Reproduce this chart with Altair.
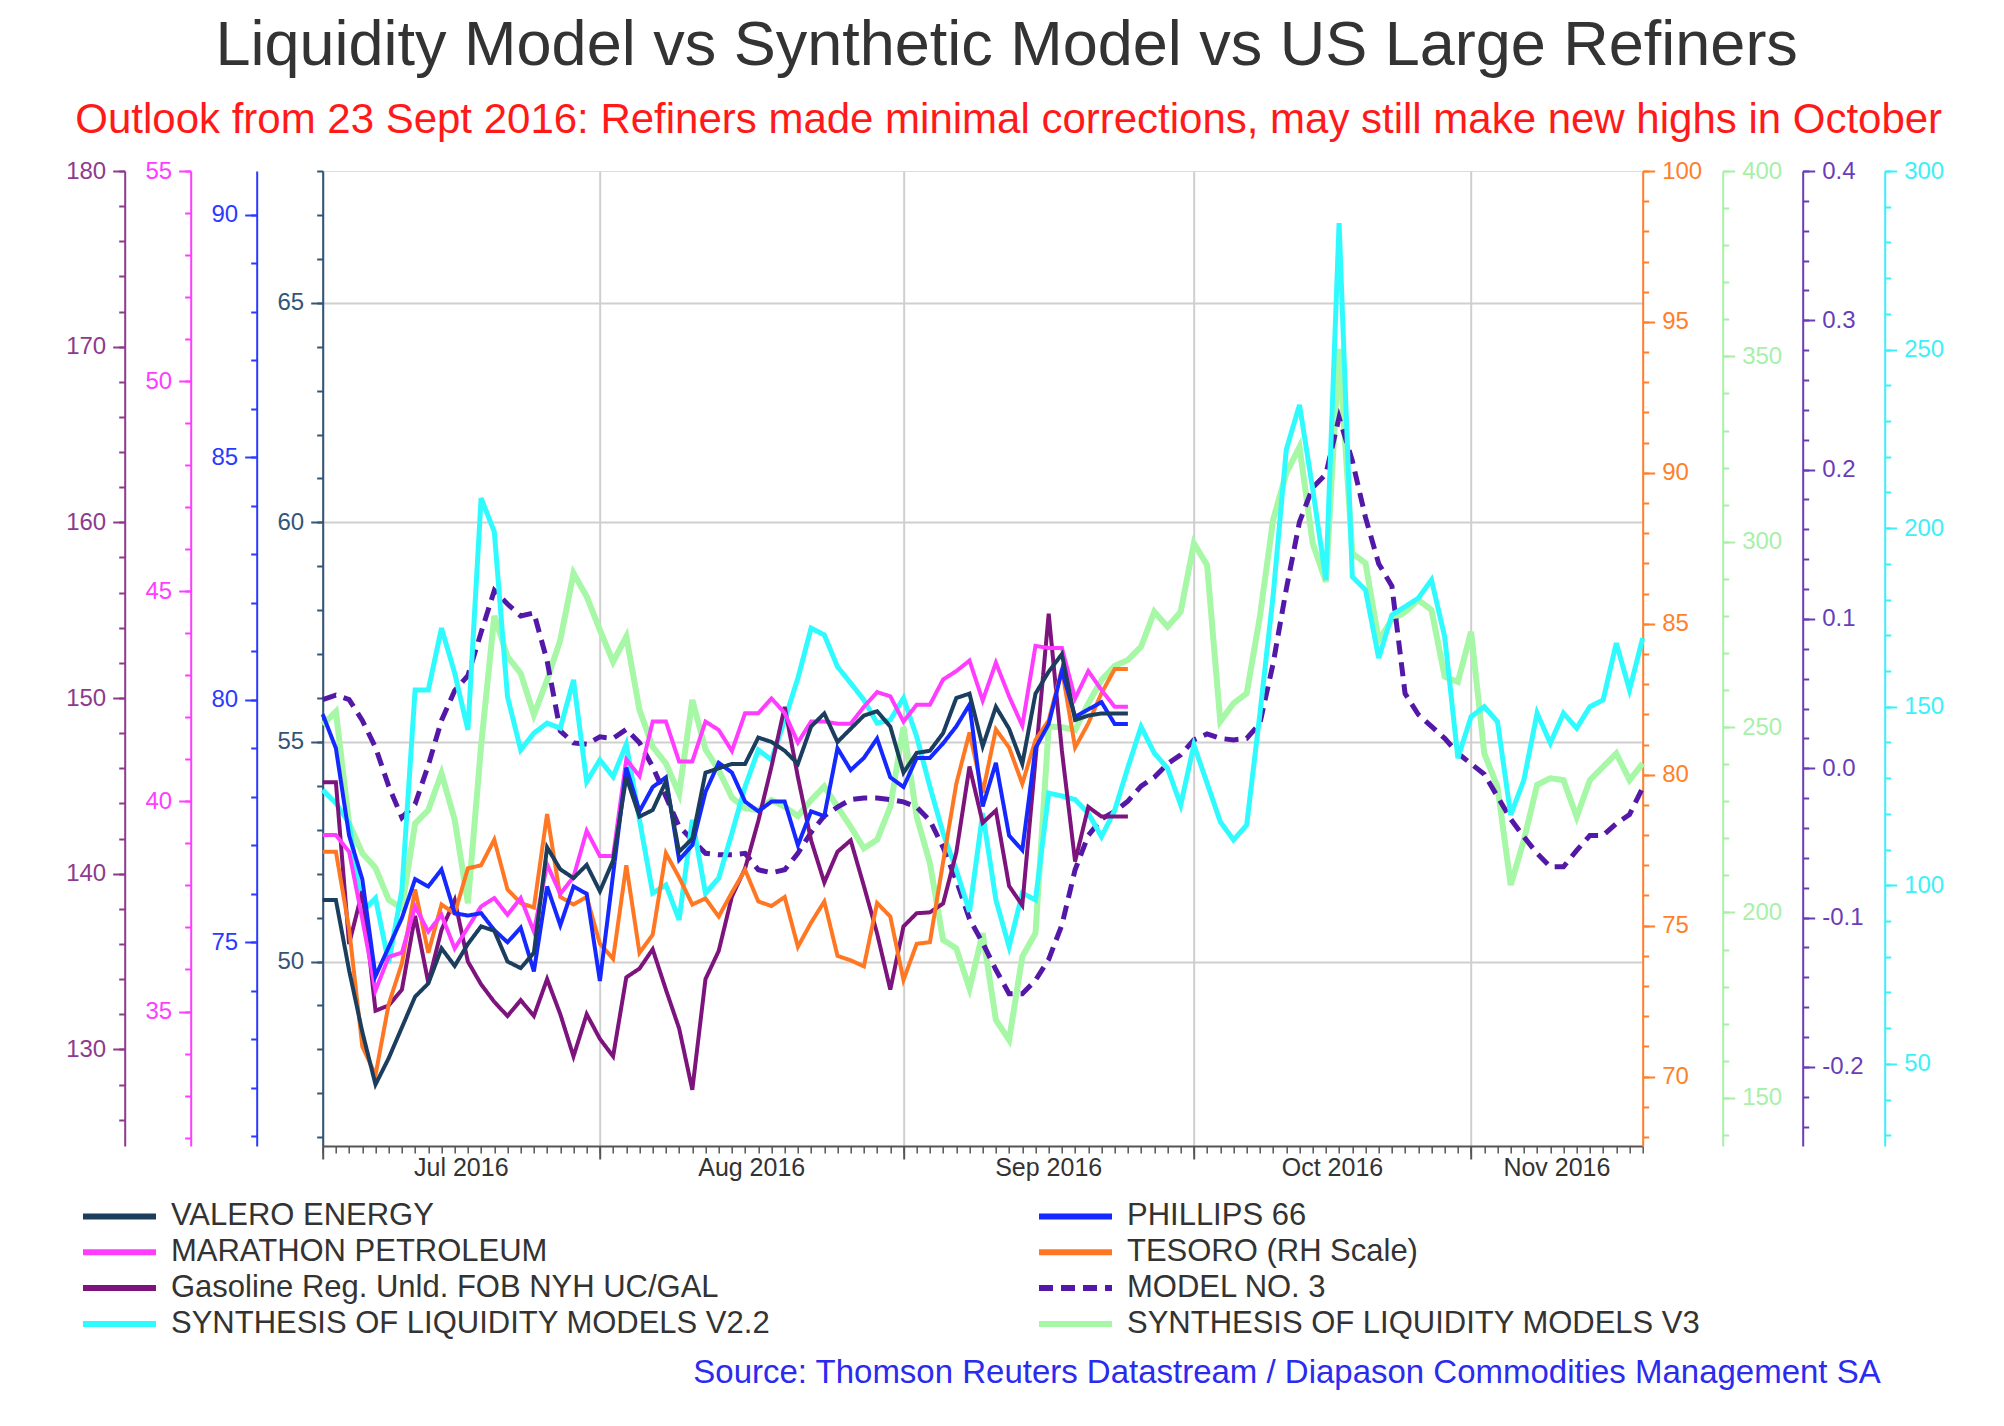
import altair as alt
import numpy as np
import pandas as pd

# ---------------- data ----------------
START, END = "2016-07-01", "2016-11-18"
days = pd.bdate_range(START, END)  # weekday calendar used by the chart's time axis

# refiners, daily (weekdays) from 1 Jul to 26 Sep 2016
valero = [51.4, 51.4, 49.8, 48.4, 47.2, 47.8, 48.5, 49.2, 49.5, 50.3,
          49.9, 50.4, 50.8, 50.7, 50.0, 49.85, 50.2, 52.6, 52.1, 51.9,
          52.2, 51.6, 52.3, 54.2, 53.3, 53.45, 54.1, 52.5, 52.8, 54.3,
          54.4, 54.5, 54.5, 55.1, 55.0, 54.8, 54.5, 55.35, 55.65, 55.0,
          55.3, 55.6, 55.7, 55.35, 54.3, 54.75, 54.8, 55.2, 56.0, 56.1,
          54.9, 55.8, 55.3, 54.5, 56.1, 56.6, 57.0, 55.5, 55.6, 55.65,
          55.65, 55.65]
phillips = [79.7, 79.0, 77.2, 76.3, 74.3, 74.9, 75.5, 76.3, 76.15, 76.5,
            75.6, 75.55, 75.6, 75.25, 75.0, 75.3, 74.4, 76.15, 75.35, 76.15,
            76.0, 74.2, 76.4, 78.6, 77.7, 78.2, 78.4, 76.7, 77.0, 78.1,
            78.7, 78.5, 77.9, 77.7, 77.9, 77.9, 77.0, 77.7, 77.6, 79.0,
            78.55, 78.8, 79.2, 78.4, 78.2, 78.8, 78.8, 79.1, 79.45, 79.9,
            77.8, 78.7, 77.2, 76.9, 79.0, 79.5, 80.6, 79.65, 79.8, 79.95,
            79.5, 79.5]
marathon = [39.2, 39.2, 38.8, 37.2, 35.5, 36.3, 36.4, 37.5, 36.9, 37.3,
            36.5, 37.0, 37.5, 37.7, 37.3, 37.7, 36.9, 38.5, 37.8, 38.2,
            39.3, 38.7, 38.7, 41.0, 40.6, 41.9, 41.9, 40.95, 40.95, 41.9,
            41.7, 41.2, 42.1, 42.1, 42.45, 42.1, 41.4, 41.9, 41.9, 41.85,
            41.85, 42.25, 42.6, 42.5, 41.9, 42.3, 42.3, 42.9, 43.1, 43.35,
            42.4, 43.3, 42.5, 41.8, 43.7, 43.65, 43.65, 42.45, 43.1, 42.65,
            42.25, 42.25]
tesoro = [77.45, 77.45, 74.9, 71.0, 70.05, 72.4, 73.75, 76.2, 74.1, 75.7,
          75.4, 76.9, 77.0, 77.85, 76.2, 75.75, 75.6, 78.7, 75.95, 75.7,
          75.95, 74.4, 73.9, 77.0, 74.1, 74.7, 77.4, 76.6, 75.7, 75.9,
          75.3, 76.1, 76.85, 75.8, 75.65, 75.95, 74.3, 75.1, 75.8, 74.0,
          73.85, 73.65, 75.75, 75.3, 73.2, 74.4, 74.45, 77.1, 79.7, 81.4,
          79.4, 81.5, 80.9, 79.7, 81.15, 81.8, 83.5, 80.9, 81.7, 82.7,
          83.5, 83.5]
gasoline = [145.2, 145.2, 136.0, 139.0, 132.2, 132.5, 133.4, 137.6, 133.8, 136.8,
            138.5, 135.0, 133.7, 132.7, 131.9, 132.8, 131.9, 134.0, 132.0, 129.6,
            132.0, 130.6, 129.6, 134.1, 134.6, 135.7, 133.4, 131.2, 127.7, 134.0,
            135.6, 138.7, 140.3, 143.0, 146.1, 149.5, 145.5, 141.9, 139.5, 141.25,
            141.9, 139.3, 136.6, 133.4, 137.0, 137.75, 137.8, 138.3, 141.2, 146.1,
            142.9, 143.6, 139.3, 138.2, 146.5, 154.8, 147.0, 140.7, 143.8, 143.25,
            143.25, 143.25]
# models, daily (weekdays) from 1 Jul to 18 Nov 2016
model3 = [0.046, 0.049, 0.046, 0.032, 0.014, -0.012, -0.033, -0.024, 0.002, 0.032,
          0.052, 0.062, 0.091, 0.119, 0.110, 0.102, 0.104, 0.072, 0.025, 0.017,
          0.016, 0.021, 0.020, 0.026, 0.017, 0.001, -0.019, -0.039, -0.048, -0.057,
          -0.058, -0.058, -0.057, -0.068, -0.070, -0.068, -0.057, -0.043, -0.032, -0.026,
          -0.021, -0.020, -0.020, -0.021, -0.0225, -0.026, -0.035, -0.053, -0.075, -0.101,
          -0.117, -0.135, -0.151, -0.151, -0.142, -0.128, -0.105, -0.068, -0.045, -0.034,
          -0.029, -0.022, -0.012, -0.006, 0.003, 0.009, 0.019, 0.023, 0.020, 0.019,
          0.020, 0.030, 0.070, 0.120, 0.165, 0.188, 0.197, 0.235, 0.206, 0.168,
          0.137, 0.122, 0.050, 0.036, 0.028, 0.020, 0.010, 0.003, -0.004, -0.019,
          -0.034, -0.046, -0.057, -0.066, -0.066, -0.055, -0.045, -0.045, -0.037, -0.031,
          -0.013]
synth_v22 = [126.7, 123.0, 117.4, 92.6, 96.4, 78.2, 98.7, 154.7, 154.7, 172.0,
             159.4, 143.5, 208.4, 199.0, 152.8, 137.9, 142.6, 145.4, 144.0, 157.5,
             129.0, 135.1, 130.4, 139.5, 118.3, 97.8, 100.1, 90.3, 118.3, 97.8,
             102.0, 114.6, 127.6, 137.9, 135.1, 146.3, 158.0, 172.0, 170.1, 161.2,
             156.6, 151.9, 145.4, 146.3, 152.4, 141.6, 127.6, 114.6, 104.3, 92.6,
             120.2, 95.9, 82.8, 97.8, 95.9, 125.8, 125.0, 124.0, 120.2, 113.6,
             121.0, 133.0, 144.4, 137.0, 132.8, 122.5, 139.3, 128.6, 117.8, 112.7,
             116.9, 148.0, 181.0, 222.0, 234.5, 211.0, 185.5, 285.4, 186.4, 182.7,
             163.6, 175.7, 178.0, 180.4, 185.5, 169.6, 135.6, 147.2, 150.0, 145.8,
             119.7, 129.5, 148.2, 139.8, 148.2, 144.0, 150.0, 151.9, 167.8, 154.7,
             169.2]
synth_v3 = [250.6, 254.2, 224.0, 216.0, 212.0, 203.4, 201.1, 224.0, 227.6, 237.5,
            225.0, 202.5, 245.0, 280.0, 269.0, 264.5, 253.3, 262.7, 273.5, 291.5,
            285.2, 276.2, 267.6, 274.4, 254.6, 244.7, 240.2, 232.0, 257.3, 244.0,
            238.4, 231.0, 228.1, 227.6, 230.3, 228.5, 226.0, 230.3, 234.0, 228.5,
            223.1, 217.3, 219.6, 228.5, 250.1, 225.8, 213.3, 192.6, 190.3, 179.5,
            194.4, 171.0, 165.6, 188.1, 194.4, 250.1, 250.0, 249.2, 256.4, 262.7,
            266.5, 268.1, 271.7, 281.1, 277.1, 281.1, 299.6, 293.7, 251.5, 256.4,
            259.1, 279.8, 305.9, 318.5, 325.6, 299.6, 289.2, 352.0, 296.9, 294.2,
            273.5, 278.9, 281.0, 284.3, 281.6, 263.6, 262.2, 275.7, 242.9, 233.9,
            207.4, 219.5, 234.4, 236.2, 235.7, 225.8, 235.7, 239.3, 242.9, 235.7,
            240.2]

# legend order (filled column by column: left column first, then right column)
names = ["VALERO ENERGY", "MARATHON PETROLEUM", "Gasoline Reg. Unld. FOB NYH UC/GAL",
         "SYNTHESIS OF LIQUIDITY MODELS V2.2",
         "PHILLIPS 66", "TESORO (RH Scale)", "MODEL NO. 3", "SYNTHESIS OF LIQUIDITY MODELS V3"]
line_colors = ["#1B3D5E", "#FF3CFF", "#7D137D", "#2FFBFF",
               "#1428FF", "#FF7722", "#5418A8", "#A6F7A6"]
dashes = [[1, 0], [1, 0], [1, 0], [1, 0], [1, 0], [1, 0], [14, 8], [1, 0]]
N_VALERO, N_MARATHON, N_GASOLINE, N_V22, N_PHILLIPS, N_TESORO, N_MODEL, N_V3 = names

month_names = ["Jul 2016", "Aug 2016", "Sep 2016", "Oct 2016", "Nov 2016"]
month_first_days = ["2016-07-01", "2016-08-01", "2016-09-01", "2016-10-03", "2016-11-01"]

title_text = "Liquidity Model vs Synthetic Model vs US Large Refiners"
subtitle_text = "Outlook from 23 Sept 2016: Refiners made minimal corrections,  may still make new highs in October"
source_text = "Source: Thomson Reuters Datastream / Diapason Commodities Management SA"

FONT = "Liberation Sans"
W, H = 1320, 975


def wd(dates):
    """weekday index counted from the first day of the axis"""
    return np.busday_count(np.datetime64(START, "D"),
                           np.asarray(pd.to_datetime(dates).values, dtype="datetime64[D]"))


def frame(name, vals):
    d = days[:len(vals)]
    return pd.DataFrame({"date": d.strftime("%Y-%m-%d"), "t": wd(d), "v": vals, "series": name})


month_start_idx = [int(i) for i in wd(month_first_days)]
end_idx = int(wd([END])[0])
months_df = pd.DataFrame({"label": month_names, "first": month_first_days})
months_df["mid"] = [(a + b) / 2 for a, b in zip(month_start_idx, month_start_idx[1:] + [end_idx])]

XS = alt.Scale(domain=[0, end_idx], nice=False, zero=False)


def xenc(field="t", axis=None):
    return alt.X(f"{field}:Q", scale=XS, axis=axis, title=None)


x_major_axis = alt.Axis(orient="bottom", values=month_start_idx, labels=False, tickSize=13,
                        tickWidth=2, tickColor="#555555", domainColor="#555555", domainWidth=2,
                        grid=True, gridColor="#CFCFCF", gridWidth=2, title=None)
x_minor_axis = alt.Axis(orient="bottom", values=list(range(0, end_idx + 1)), labels=False,
                        tickSize=7, tickWidth=1.5, tickColor="#555555", domain=False,
                        grid=False, title=None)

legend = alt.Legend(title=None, orient="none", legendX=-242.7, legendY=1030, columns=2,
                    symbolType="stroke", symbolSize=5329, symbolStrokeWidth=6,
                    clipHeight=31, labelFontSize=31, labelFont=FONT, labelColor="#333333",
                    labelOffset=12, labelLimit=2000, columnPadding=265, rowPadding=3.8)
COLOR = alt.Color("series:N", scale=alt.Scale(domain=names, range=line_colors), legend=legend)
DASH = alt.StrokeDash("series:N", scale=alt.Scale(domain=names, range=dashes), legend=legend)

# (name, values, domain, orient, offset, axis colour, minor ticks, major ticks, label expr, width)
MINUS = "replace(datum.label, '\u2212', '-')"
specs = [
    (N_V3, synth_v3, [137, 400], "right", 80, "#A8F0A8",
     list(range(140, 401, 10)), list(range(150, 401, 50)), None, 6),
    (N_MODEL, model3, [-0.253, 0.4], "right", 160, "#6A3CB8",
     [round(-0.24 + 0.02 * i, 2) for i in range(33)], [-0.2, -0.1, 0.0, 0.1, 0.2, 0.3, 0.4], MINUS, 5),
    (N_V22, synth_v22, [27, 300], "right", 242, "#3BF0F8",
     list(range(30, 301, 10)), list(range(50, 301, 50)), None, 5),
    (N_GASOLINE, gasoline, [124.5, 180], "left", 198, "#8E3A8E",
     list(range(126, 181, 2)), list(range(130, 181, 10)), None, 4),
    (N_TESORO, tesoro, [67.7, 100], "right", 0, "#FF7F2A",
     list(range(68, 101)), list(range(70, 101, 5)), None, 4),
    (N_MARATHON, marathon, [31.8, 55], "left", 132, "#FF3CFF",
     list(range(32, 56)), list(range(35, 56, 5)), None, 4),
    (N_PHILLIPS, phillips, [70.8, 90.9], "left", 66, "#2A3AFF",
     list(range(71, 91)), list(range(75, 91, 5)), None, 4),
    (N_VALERO, valero, [45.8, 68], "left", 0, "#335577",
     list(range(46, 69)), list(range(50, 66, 5)), None, 4),
]

layers = []
for k, (name, vals, dom, orient, off, acol, minor, major, lexpr, width) in enumerate(specs):
    df = frame(name, vals)
    ys = alt.Scale(domain=dom, nice=False, zero=False)
    minor_axis = alt.Axis(orient=orient, offset=off, values=minor, tickSize=6, tickWidth=2,
                          tickColor=acol, domain=False, labels=False, grid=False, title=None)
    major_kw = dict(orient=orient, offset=off, values=major, tickSize=12, tickWidth=2,
                    tickColor=acol, domainColor=acol, domainWidth=2, labelColor=acol,
                    labelFontSize=24, labelFont=FONT, labelPadding=7, labelFlush=False,
                    labelOverlap=False, title=None)
    if lexpr:
        major_kw.update(format=".1f", labelExpr=lexpr)
    if name == N_VALERO:
        major_kw.update(grid=True, gridColor="#CFCFCF", gridWidth=2)
    else:
        major_kw["grid"] = False
    major_axis = alt.Axis(**major_kw)

    # invisible copy carrying the minor tick marks of this series' scale
    layers.append(alt.Chart(df).mark_line(strokeOpacity=0).encode(
        x=xenc(axis=x_minor_axis if k == 0 else None),
        y=alt.Y("v:Q", scale=ys, axis=minor_axis)))
    layers.append(alt.Chart(df).mark_line(strokeWidth=width).encode(
        x=xenc(axis=x_major_axis if k == 0 else None),
        y=alt.Y("v:Q", scale=ys, axis=major_axis),
        color=COLOR, strokeDash=DASH))

month_layer = alt.Chart(months_df).mark_text(font=FONT, fontSize=25, color="#333333",
                                             baseline="middle").encode(
    x=xenc("mid"), y=alt.value(H + 22), text="label:N")

title_layer = alt.Chart(pd.DataFrame({"text": [title_text]})).mark_text(
    font=FONT, fontSize=63, color="#333333", align="center", baseline="alphabetic").encode(
    x=alt.value(684), y=alt.value(-106), text="text:N")
subtitle_layer = alt.Chart(pd.DataFrame({"text": [subtitle_text]})).mark_text(
    font=FONT, fontSize=42, color="#FF1A1A", align="center", baseline="alphabetic").encode(
    x=alt.value(686), y=alt.value(-38), text="text:N")
source_layer = alt.Chart(pd.DataFrame({"text": [source_text]})).mark_text(
    font=FONT, fontSize=33, color="#2B2BF0", align="right", baseline="alphabetic").encode(
    x=alt.value(1558), y=alt.value(1212), text="text:N")

chart = alt.layer(*layers, month_layer, title_layer, subtitle_layer, source_layer).resolve_scale(
    x="independent", y="independent"
).properties(
    width=W, height=H,
    autosize=alt.AutoSizeParams(type="none"),
    padding={"left": 314.7, "top": 163, "right": 330, "bottom": 250},
).configure_view(stroke=None).configure(background="white")

chart.save("out.html", embed_options={"renderer": "svg", "actions": False})
